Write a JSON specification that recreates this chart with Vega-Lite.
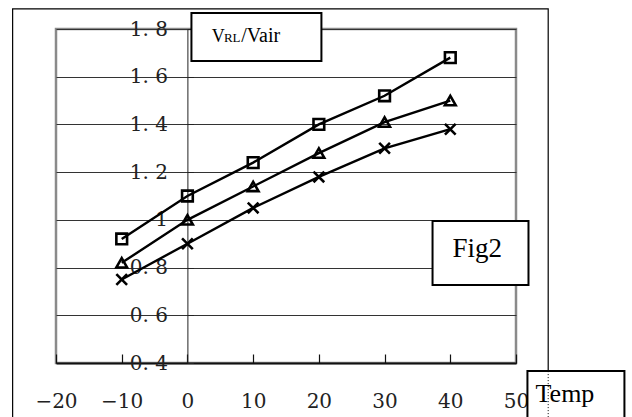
{
  "$schema": "https://vega.github.io/schema/vega-lite/v6.json",
  "width": 460,
  "height": 334,
  "autosize": {"type": "none"},
  "padding": {"left": 56, "top": 29, "right": 116, "bottom": 54},
  "background": "white",
  "config": {
    "view": {"stroke": "#8a8a8a", "strokeWidth": 2.5},
    "font": "DejaVu Serif"
  },
  "datasets": {
    "curves": [
      {"temp": -10, "ratio": 0.92, "series": "Series1"},
      {"temp": 0, "ratio": 1.10, "series": "Series1"},
      {"temp": 10, "ratio": 1.24, "series": "Series1"},
      {"temp": 20, "ratio": 1.40, "series": "Series1"},
      {"temp": 30, "ratio": 1.52, "series": "Series1"},
      {"temp": 40, "ratio": 1.68, "series": "Series1"},
      {"temp": -10, "ratio": 0.82, "series": "Series2"},
      {"temp": 0, "ratio": 1.00, "series": "Series2"},
      {"temp": 10, "ratio": 1.14, "series": "Series2"},
      {"temp": 20, "ratio": 1.28, "series": "Series2"},
      {"temp": 30, "ratio": 1.41, "series": "Series2"},
      {"temp": 40, "ratio": 1.50, "series": "Series2"},
      {"temp": -10, "ratio": 0.75, "series": "Series3"},
      {"temp": 0, "ratio": 0.90, "series": "Series3"},
      {"temp": 10, "ratio": 1.05, "series": "Series3"},
      {"temp": 20, "ratio": 1.18, "series": "Series3"},
      {"temp": 30, "ratio": 1.30, "series": "Series3"},
      {"temp": 40, "ratio": 1.38, "series": "Series3"}
    ],
    "one": [{"k": 1}]
  },
  "layer": [
    {
      "data": {"name": "one"},
      "mark": {"type": "rect", "fill": "transparent", "stroke": "#000", "strokeWidth": 1.2, "clip": false},
      "encoding": {
        "x": {"datum": -26.6, "type": "quantitative", "scale": {"domain": [-20, 50], "nice": false, "zero": false}},
        "x2": {"datum": 54.9},
        "y": {"datum": 1.884, "type": "quantitative", "scale": {"domain": [0.4, 1.8], "nice": false, "zero": false}},
        "y2": {"datum": 0.1}
      }
    },
    {
      "data": {"name": "curves"},
      "mark": {"type": "line", "color": "#000", "strokeWidth": 2.4},
      "encoding": {
        "x": {
          "field": "temp",
          "type": "quantitative",
          "scale": {"domain": [-20, 50], "nice": false, "zero": false},
          "axis": {
            "title": null,
            "values": [-20, -10, 0, 10, 20, 30, 40, 50],
            "grid": false,
            "domainColor": "#111",
            "domainWidth": 1.8,
            "tickColor": "#111",
            "tickSize": -9,
            "tickWidth": 1.2,
            "labelFont": "DejaVu Serif",
            "labelFontSize": 20,
            "labelColor": "#222",
            "labelPadding": 37,
            "labelBaseline": "top",
            "labelFlush": false
          }
        },
        "y": {
          "field": "ratio",
          "type": "quantitative",
          "scale": {"domain": [0.4, 1.8], "nice": false, "zero": false},
          "axis": {
            "title": null,
            "values": [0.4, 0.6, 0.8, 1.0, 1.2, 1.4, 1.6, 1.8],
            "offset": -131.4,
            "grid": true,
            "gridColor": "#333",
            "gridWidth": 1,
            "gridOpacity": 1,
            "domainColor": "#222",
            "domainWidth": 1,
            "tickColor": "#222",
            "tickSize": -6,
            "labelExpr": "replace(toString(datum.value), '.', '. ')",
            "labelFont": "DejaVu Serif",
            "labelFontSize": 20,
            "labelColor": "#222",
            "labelPadding": 26,
            "labelBaseline": "middle",
            "labelFlush": false
          }
        },
        "detail": {"field": "series"}
      }
    },
    {
      "data": {"name": "curves"},
      "mark": {"type": "point", "filled": false, "stroke": "#000", "strokeWidth": 2.6, "size": 115, "opacity": 1},
      "encoding": {
        "x": {"field": "temp", "type": "quantitative"},
        "y": {"field": "ratio", "type": "quantitative"},
        "shape": {
          "field": "series",
          "scale": {"domain": ["Series1", "Series2", "Series3"], "range": ["square", "triangle-up", "M-1,-1L1,1M1,-1L-1,1"]},
          "legend": null
        }
      }
    },
    {
      "data": {"name": "one"},
      "mark": {"type": "rect", "fill": "white", "stroke": "#000", "strokeWidth": 2, "clip": false},
      "encoding": {
        "x": {"datum": 0.61, "type": "quantitative"},
        "x2": {"datum": 20.39},
        "y": {"datum": 1.867, "type": "quantitative"},
        "y2": {"datum": 1.666}
      }
    },
    {
      "data": {"name": "one"},
      "mark": {"type": "rect", "fill": "white", "stroke": "#000", "strokeWidth": 2, "clip": false},
      "encoding": {
        "x": {"datum": 37.3, "type": "quantitative"},
        "x2": {"datum": 51.9},
        "y": {"datum": 0.995, "type": "quantitative"},
        "y2": {"datum": 0.727}
      }
    },
    {
      "data": {"name": "one"},
      "mark": {"type": "rect", "fill": "white", "stroke": "#000", "strokeWidth": 2, "clip": false},
      "encoding": {
        "x": {"datum": 51.74, "type": "quantitative"},
        "x2": {"datum": 66.5},
        "y": {"datum": 0.366, "type": "quantitative"},
        "y2": {"datum": 0.05}
      }
    },
    {
      "data": {"name": "one"},
      "mark": {"type": "rule", "stroke": "#000", "strokeWidth": 1, "strokeDash": [1, 2], "clip": false},
      "encoding": {
        "x": {"datum": 54.9, "type": "quantitative"},
        "y": {"datum": 0.366, "type": "quantitative"},
        "y2": {"datum": 0.05}
      }
    },
    {
      "data": {"name": "one"},
      "mark": {"type": "text", "font": "Liberation Serif", "fontSize": 18, "align": "left", "baseline": "alphabetic", "color": "#000", "clip": false},
      "encoding": {"x": {"datum": 3.7, "type": "quantitative"}, "y": {"datum": 1.746, "type": "quantitative"}, "text": {"value": "V"}}
    },
    {
      "data": {"name": "one"},
      "mark": {"type": "text", "font": "Liberation Serif", "fontSize": 13, "align": "left", "baseline": "alphabetic", "color": "#000", "clip": false},
      "encoding": {"x": {"datum": 5.55, "type": "quantitative"}, "y": {"datum": 1.746, "type": "quantitative"}, "text": {"value": "RL"}}
    },
    {
      "data": {"name": "one"},
      "mark": {"type": "text", "font": "Liberation Serif", "fontSize": 20, "align": "left", "baseline": "alphabetic", "color": "#000", "clip": false},
      "encoding": {"x": {"datum": 8.2, "type": "quantitative"}, "y": {"datum": 1.746, "type": "quantitative"}, "text": {"value": "/Vair"}}
    },
    {
      "data": {"name": "one"},
      "mark": {"type": "text", "font": "Liberation Serif", "fontSize": 27, "align": "center", "baseline": "alphabetic", "color": "#000", "clip": false},
      "encoding": {"x": {"datum": 44.1, "type": "quantitative"}, "y": {"datum": 0.844, "type": "quantitative"}, "text": {"value": "Fig2"}}
    },
    {
      "data": {"name": "one"},
      "mark": {"type": "text", "font": "Liberation Serif", "fontSize": 26, "align": "center", "baseline": "alphabetic", "color": "#000", "clip": false},
      "encoding": {"x": {"datum": 57.45, "type": "quantitative"}, "y": {"datum": 0.2365, "type": "quantitative"}, "text": {"value": "Temp"}}
    }
  ]
}
